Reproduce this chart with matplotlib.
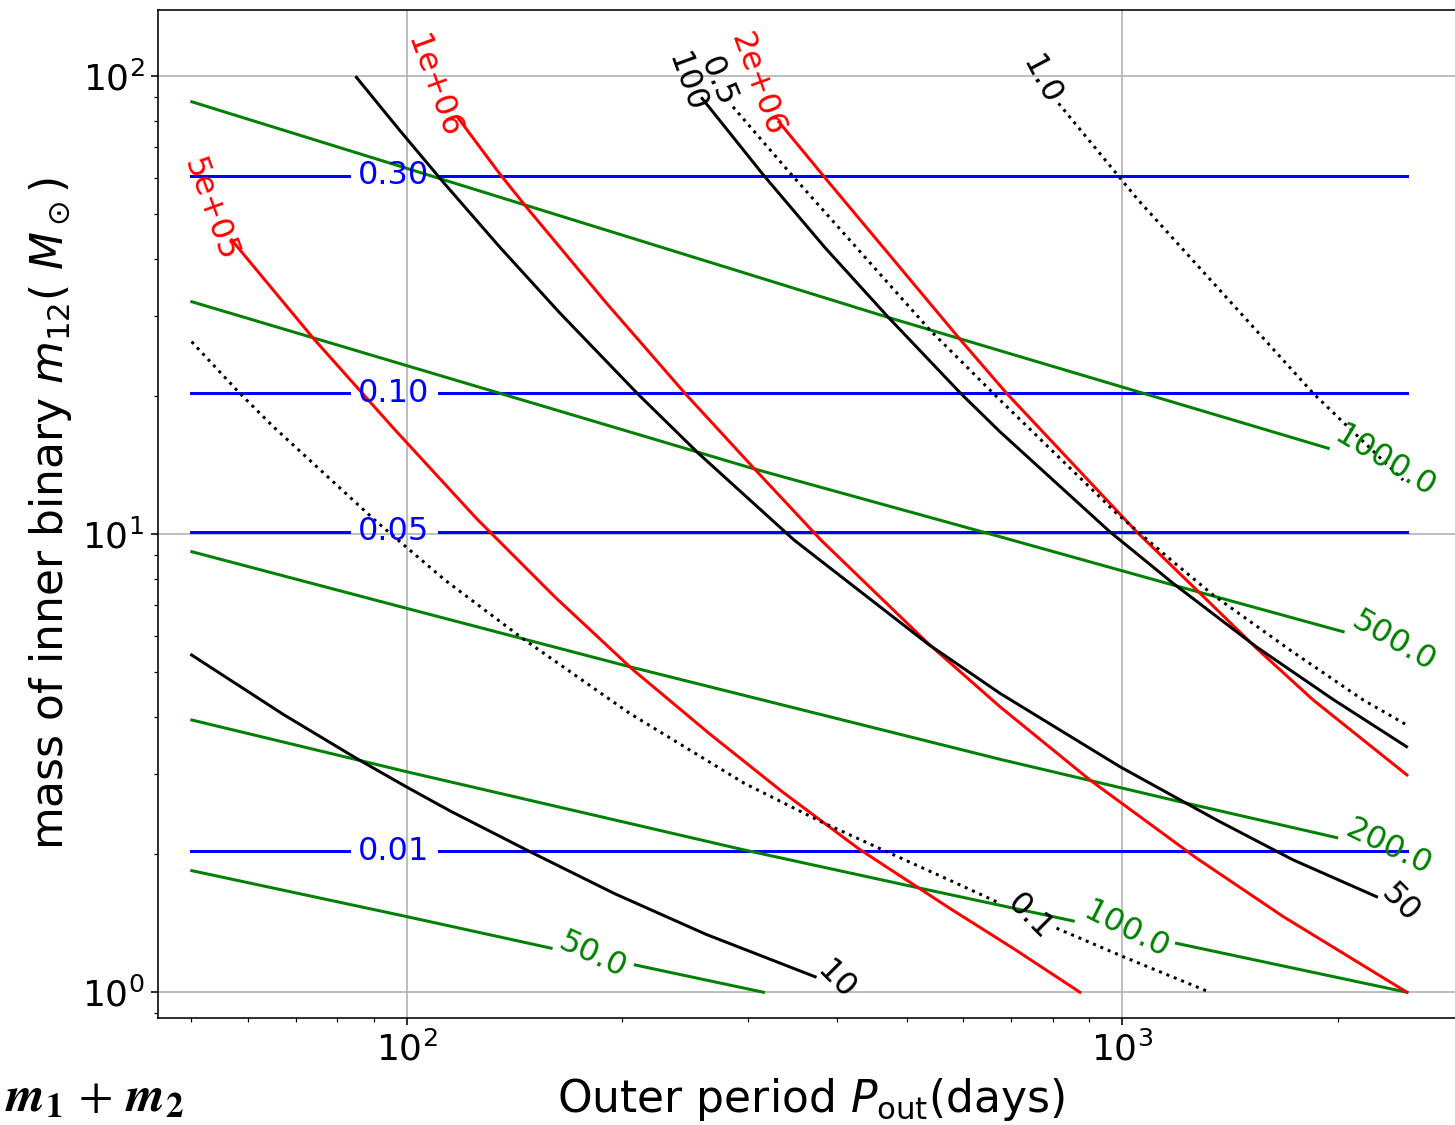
import numpy as np
import matplotlib.pyplot as plt

nan = np.nan

# ---- data (P_out in days, m12 in solar masses) ----
# blue contours (horizontal), label sits in the gap
blue_labels = ["0.30", "0.10", "0.05", "0.01"]
blue_m12 = [60.7, 20.3, 10.13, 2.03]
blue_P = [50, 83, nan, 111, 2500]

# green contours
green_labels = ["1000.0", "500.0", "200.0", "100.0", "50.0"]
green_P = [
    [50.1, 467.6, 1941],
    [50.1, 135.0, 303.8, 674.8, 1178, 2036],
    [50.1, 100, 204.9, 674.8, 1204, 1994],
    [50.1, 100, 296.4, 509.6, 854.3, nan, 1191, 2500],
    [50.1, 100, 159.2, nan, 208.7, 315.3],
]
green_m12 = [
    [88.0, 29.86, 15.41],
    [32.2, 20.32, 13.94, 9.88, 7.75, 6.128],
    [9.163, 6.892, 5.139, 3.227, 2.607, 2.176],
    [3.931, 3.031, 2.045, 1.701, 1.431, nan, 1.279, 1.0],
    [1.843, 1.463, 1.248, nan, 1.147, 1.0],
]

# red contours
red_labels = ["5e+05", "1e+06", "2e+06"]
red_P = [
    [56.96, 74.05, 95.8, 125.2, 161.2, 207.4, 265.3, 335.3, 428.8, 574.3, 708.2, 873.0],
    [117.7, 134.8, 146.9, 189.7, 244.9, 305.7, 379.3, 535.3, 674.8, 901.4, 1271, 1679, 2500],
    [331.2, 381.6, 594.6, 689.5, 1047.4, 1271, 1541, 1849, 2500],
]
red_m12 = [
    [43.93, 26.80, 17.07, 10.83, 7.296, 5.054, 3.664, 2.737, 2.055, 1.525, 1.240, 1.0],
    [81.6, 61.4, 51.91, 32.14, 20.32, 13.94, 9.718, 5.781, 4.203, 2.908, 1.962, 1.463, 1.0],
    [79.6, 60.87, 26.56, 20.32, 10.13, 7.557, 5.637, 4.347, 2.982],
]

# black solid contours
black_labels = ["10", "50", "100"]
black_P = [
    [50.07, 67.23, 85.13, 100, 115.0, 148.7, 195.1, 262.1, 372.3],
    [85.1, 97.9, 112.5, 135.0, 163.8, 210.0, 255.7, 347.9, 535.3, 674.8, 992.6, 1355, 1734, 2267],
    [258.8, 315.3, 384.2, 470.4, 594.6, 674.8, 961.1, 1178, 1541, 1972, 2497],
]
black_m12 = [
    [5.451, 4.044, 3.240, 2.807, 2.489, 2.028, 1.643, 1.338, 1.081],
    [99.5, 76.1, 58.75, 42.36, 30.41, 20.32, 15.03, 9.717, 5.761, 4.496, 3.109, 2.378, 1.945, 1.617],
    [89.5, 60.87, 42.29, 29.86, 20.32, 16.75, 10.13, 7.816, 5.675, 4.358, 3.438],
]

# black dotted contours
dotted_labels = ["0.1", "0.5", "1.0"]
dotted_P = [
    [50.07, 58.18, 65.12, 90.8, 113.1, 145.1, 204.9, 296.4, 379.3, 456.2, 574.3, 674.8,
     nan, 809.6, 1003, 1326],
    [285.8, 343.8, 538.6, 674.8, 982.2, 1178, 1340, 1716, 2172, 2500],
    [814.9, 1053, 1849, 2470],
]
dotted_m12 = [
    [26.34, 20.48, 17.18, 10.65, 7.947, 5.930, 4.067, 2.860, 2.358, 2.067, 1.756, 1.564,
     nan, 1.380, 1.196, 1.0],
    [85.8, 61.4, 27.93, 19.65, 11.11, 8.712, 7.370, 5.589, 4.347, 3.833],
    [87.3, 53.7, 20.32, 13.14],
]

# ---- figure ----
fig = plt.figure(figsize=(1455 / 144, 1125 / 144), dpi=144)
ax = fig.add_axes([0.1088, 0.0954, 0.8971, 0.8957])
ax.set_xscale("log")
ax.set_yscale("log")

lfs = 16  # contour label size

def label(x, y, s, color, rot):
    ax.text(x, y, s, color=color, fontsize=lfs, rotation=rot,
            ha="center", va="center", rotation_mode="anchor")

for m, s in zip(blue_m12, blue_labels):
    ax.plot(blue_P, [m] * len(blue_P), color="blue")
    label(96, m, s, "blue", 0)

green_pos = [(2328, 14.38, -31), (2397, 5.82, -30), (2359, 2.066, -26),
             (1012, 1.368, -27), (182.1, 1.206, -25)]
for P, m, s, (x, y, r) in zip(green_P, green_m12, green_labels, green_pos):
    ax.plot(P, m, color="green")
    label(x, y, s, "green", r)

red_pos = [(53.1, 51.06, -70), (108.8, 94.8, -70), (308.7, 95.7, -70)]
for P, m, s, (x, y, r) in zip(red_P, red_m12, red_labels, red_pos):
    ax.plot(P, m, color="red")
    label(x, y, s, "red", r)

black_pos = [(398.0, 1.059, -45), (2444, 1.567, -45), (245.7, 96.7, -70)]
for P, m, s, (x, y, r) in zip(black_P, black_m12, black_labels, black_pos):
    ax.plot(P, m, color="black")
    label(x, y, s, "black", r)

dotted_pos = [(743.0, 1.460, -45), (272.3, 97.2, -67), (769.7, 97.7, -62)]
for P, m, s, (x, y, r) in zip(dotted_P, dotted_m12, dotted_labels, dotted_pos):
    ax.plot(P, m, color="black", linestyle=":")
    label(x, y, s, "black", r)

ax.set_xlim(10 ** 1.653, 3000)
ax.set_ylim(0.88, 139.6)
ax.grid(True, which="major")
ax.tick_params(labelsize=18)
ax.set_xlabel(r"Outer period $P_{\rm out}$(days)", fontsize=22)
ax.set_ylabel(r"mass of inner binary $m_{12}$( $M_\odot$)", fontsize=22)

fig.text(184 / 1455, 14 / 1125,
         r"$\mathbfit{m}_{\mathbf{1}}\,+\,\mathbfit{m}_{\mathbf{2}}$",
         fontsize=25, ha="right", va="baseline", math_fontfamily="stix")

fig.savefig("out.png", dpi=144)
